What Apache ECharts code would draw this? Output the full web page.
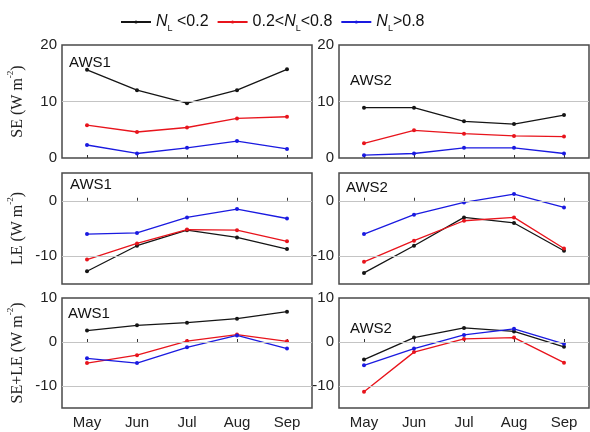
<!DOCTYPE html>
<html><head><meta charset="utf-8">
<script src="https://cdn.jsdelivr.net/npm/echarts@6/dist/echarts.min.js"></script>
<style>html,body{margin:0;padding:0;background:#fff}#c{width:590px;height:432px}</style>
</head><body><div id="c"></div>
<script>
const months = ['May','Jun','Jul','Aug','Sep'];
const seriesNames = ['NL<0.2','0.2<NL<0.8','NL>0.8'];
const stationNames = ['AWS1','AWS2'];
// SE
const seAws1Low = [15.6,12.0,9.7,12.0,15.7];
const seAws1Mid = [5.8,4.6,5.4,7.0,7.3];
const seAws1High = [2.3,0.8,1.8,3.0,1.6];
const seAws2Low = [8.9,8.9,6.5,6.0,7.6];
const seAws2Mid = [2.6,4.9,4.3,3.9,3.8];
const seAws2High = [0.5,0.8,1.8,1.8,0.8];
// LE
const leAws1Low = [-12.7,-8.1,-5.3,-6.6,-8.7];
const leAws1Mid = [-10.6,-7.7,-5.2,-5.3,-7.3];
const leAws1High = [-6.0,-5.8,-3.0,-1.5,-3.2];
const leAws2Low = [-13.0,-8.1,-3.0,-4.0,-9.0];
const leAws2Mid = [-11.0,-7.2,-3.6,-3.0,-8.6];
const leAws2High = [-6.0,-2.5,-0.3,1.2,-1.2];
// SE+LE
const sumAws1Low = [2.6,3.8,4.4,5.3,6.9];
const sumAws1Mid = [-4.8,-3.0,0.2,1.7,0.15];
const sumAws1High = [-3.7,-4.8,-1.2,1.5,-1.5];
const sumAws2Low = [-4.0,1.0,3.2,2.4,-1.1];
const sumAws2Mid = [-11.3,-2.3,0.7,1.0,-4.7];
const sumAws2High = [-5.3,-1.5,1.6,3.0,-0.4];
// axes
const yNames = ['SE','LE','SE+LE'];
const yMin = [0,-15,-15];
const yMax = [20,5,10];
const yStep = [10,5,5];
const yTickLabels = [[0,10,20],[0,-10],[10,0,-10]];
const gridLineValues = [[10],[0,-10],[0,-10]];

const panelData = [
  [[seAws1Low,seAws1Mid,seAws1High],[seAws2Low,seAws2Mid,seAws2High]],
  [[leAws1Low,leAws1Mid,leAws1High],[leAws2Low,leAws2Mid,leAws2High]],
  [[sumAws1Low,sumAws1Mid,sumAws1High],[sumAws2Low,sumAws2Mid,sumAws2High]]
];
const colors = ['#151515','#e8141c','#1a1ae0'];

const rowTops = [45,173,298];
const rowHeights = [113,111,110];
const colLefts = [62,339];
const colWidth = 250;

const grids=[], xAxes=[], yAxes=[], series=[];
const titlePos = [[[69,55],[350,73]],[[70,177],[346,180]],[[68,306],[350,321]]];
const graphics = [];
for (let r=0;r<3;r++){
  for (let c=0;c<2;c++){
    const gi = r*2+c;
    grids.push({left:colLefts[c], top:rowTops[r], width:colWidth, height:rowHeights[r],
      show:true, borderColor:'#4a4a4a', borderWidth:1.5, backgroundColor:'#fff'});
    xAxes.push({type:'category', gridIndex:gi, data:months, boundaryGap:true,
      axisLine:{show:false},
      axisTick:{show:true, inside:true, alignWithLabel:true, length:3, lineStyle:{color:'#333'}},
      axisLabel:{show:r===2, fontFamily:'Liberation Sans', fontSize:15, color:'#222', margin:7},
      splitLine:{show:false}});
    const labs = yTickLabels[r];
    yAxes.push({type:'value', gridIndex:gi, min:yMin[r], max:yMax[r], interval:yStep[r],
      axisLine:{show:false}, axisTick:{show:false}, splitLine:{show:false},
      axisLabel:{fontFamily:'Liberation Sans', fontSize:15, color:'#222', margin:5,
        formatter: v => labs.indexOf(v)>=0 ? String(v) : ''},
      name: c===0 ? '{a|'+yNames[r]+' (W m}{s|-2}{a|)}' : '',
      nameLocation:'middle', nameRotate:90, nameGap:36,
      nameTextStyle:{rich:{
        a:{fontFamily:'Liberation Serif', fontSize:16, color:'#222', lineHeight:20, verticalAlign:'bottom'},
        s:{fontFamily:'Liberation Serif', fontSize:9, color:'#222', lineHeight:10, verticalAlign:'top'}}}
    });
    series.push({type:'line', xAxisIndex:gi, yAxisIndex:gi, data:[], z:1, silent:true,
      markLine:{silent:true, symbol:'none', label:{show:false},
        lineStyle:{color:'#c4c4c4', type:'solid', width:1},
        data: gridLineValues[r].map(v=>({yAxis:v}))}});
    for (let k=0;k<3;k++){
      series.push({type:'line', name:seriesNames[k], xAxisIndex:gi, yAxisIndex:gi,
        data:panelData[r][c][k], z:3, symbol:'circle', symbolSize:4, showSymbol:true,
        lineStyle:{color:colors[k], width:1.3}, itemStyle:{color:colors[k]}});
    }
    graphics.push({type:'text', left:titlePos[r][c][0], top:titlePos[r][c][1], z:10,
      style:{text:stationNames[c], font:'15px "Liberation Sans"', fill:'#111'}});
  }
}
const legendFmt = {
  'NL<0.2':'{i|N}{s|L}{n| <0.2}',
  '0.2<NL<0.8':'{n|0.2<}{i|N}{s|L}{n|<0.8}',
  'NL>0.8':'{i|N}{s|L}{n|>0.8}'
};
const chart = echarts.init(document.getElementById('c'), null, {renderer:'canvas'});
chart.setOption({
  animation:false,
  backgroundColor:'#fff',
  legend:{data:seriesNames, top:9, left:115, itemWidth:30, itemHeight:4, itemGap:8,
    formatter: n => legendFmt[n],
    textStyle:{rich:{
      n:{fontFamily:'Liberation Sans', fontSize:16, color:'#111', lineHeight:22, verticalAlign:'middle'},
      i:{fontFamily:'Liberation Sans', fontSize:16, fontStyle:'italic', color:'#111', lineHeight:22, verticalAlign:'middle'},
      s:{fontFamily:'Liberation Sans', fontSize:9, color:'#111', lineHeight:10, verticalAlign:'bottom'}}}},
  grid:grids, xAxis:xAxes, yAxis:yAxes, series:series, graphic:graphics
});
</script></body></html>
